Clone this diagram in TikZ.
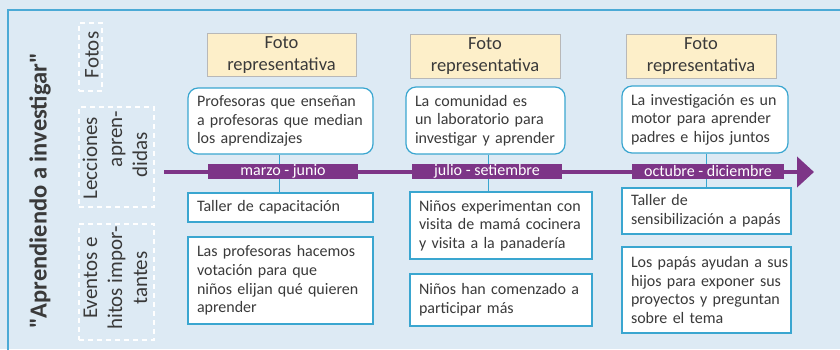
\documentclass[tikz,border=0pt]{standalone}
\usepackage{fontspec}
\setmainfont{Carlito}
\newfontfamily\titlefont{Carlito}[Ligatures=TeXOff]
\usetikzlibrary{arrows.meta}
\definecolor{bgc}{HTML}{DDEAF4}
\definecolor{framec}{HTML}{4BAAD6}
\definecolor{boxblue}{HTML}{3AA6D0}
\definecolor{tlpurple}{HTML}{7D3587}
\definecolor{fotofill}{HTML}{FDEFC9}
\definecolor{fotoline}{HTML}{B8B8B8}
\definecolor{txt}{HTML}{3A3A3A}
\tikzset{
  fotobox/.style={draw=fotoline, fill=fotofill, line width=1pt, align=center, text=txt,
    inner sep=0pt, font=\fontsize{18.5}{22}\selectfont},
  lessonbox/.style={draw=boxblue, fill=white, line width=1.2pt, rounded corners=10pt,
    align=left, text=txt, inner xsep=9pt, inner ysep=0pt, font=\fontsize{16}{18.6}\selectfont},
  eventbox/.style={draw=boxblue, fill=white, line width=1.2pt,
    align=left, text=txt, inner xsep=9pt, inner ysep=0pt, font=\fontsize{16}{18.6}\selectfont},
  datebox/.style={fill=tlpurple, text=white, minimum height=15pt, inner sep=0pt,
    font=\fontsize{16}{16}\selectfont},
  dashbox/.style={draw=white, dash pattern=on 5pt off 4pt, line width=2pt, inner sep=0pt},
  sidelabel/.style={rotate=90, anchor=base, text=txt, inner sep=0pt, font=\fontsize{21}{25}\selectfont},
  conn/.style={draw=boxblue, line width=1pt},
}
\begin{document}
\begin{tikzpicture}[x=1pt,y=-1pt]
\useasboundingbox (0,0) rectangle (840,349);
\fill[bgc] (0,0) rectangle (840,349);
\draw[framec, line width=1.5pt] (8,360) -- (8,10) -- (850,10);

% title
\node[rotate=90, text=txt, inner sep=0pt, font=\titlefont\bfseries\fontsize{24.5}{28}\selectfont] (ttl) at (40,191) {"Aprendiendo a investigar"};

% side dashed boxes
\node[dashbox, minimum width=23pt, minimum height=68pt] (fdash) at (90.5,57) {};
\node[dashbox, minimum width=75pt, minimum height=100pt] (ldash) at (116.5,157) {};
\node[dashbox, minimum width=75pt, minimum height=116pt] (edash) at (116.5,282) {};
\node[sidelabel] (sfotos) at (98.5,55) {Fotos};
\node[sidelabel] (sl1) at (97,158.5) {Lecciones};
\node[sidelabel] (sl2) at (122,139) {apren-};
\node[sidelabel] (sl3) at (147,155) {didas};
\node[sidelabel] (se1) at (97,278) {Eventos e};
\node[sidelabel] (se2) at (122,278) {hitos impor-};
\node[sidelabel] (se3) at (147,278) {tantes};

% timeline
\coordinate (tls) at (164,172);
\coordinate (tle) at (814,172);
\draw[tlpurple, line width=4.5pt, -{Triangle[length=17pt,width=30pt]}] (tls) -- (tle);

% photo boxes
\node[fotobox, minimum width=149pt, minimum height=43pt] (f1) at (281.5,55) {Foto\\representativa};
\node[fotobox, minimum width=150pt, minimum height=44pt] (f2) at (485,56) {Foto\\representativa};
\node[fotobox, minimum width=150pt, minimum height=44pt] (f3) at (701,56) {Foto\\representativa};

% lesson boxes
\node[lessonbox, text width=167pt, minimum height=66pt] (l1) at (280.5,121)
  {\mbox{Profesoras que enseñan}\\\mbox{a profesoras que median}\\\mbox{los aprendizajes}};
\node[lessonbox, text width=141pt, minimum height=67pt] (l2) at (485.5,120.5)
  {\mbox{La comunidad es}\\\mbox{un laboratorio para}\\\mbox{investigar y aprender}};
\node[lessonbox, text width=148pt, minimum height=67pt] (l3) at (705,119.5)
  {\mbox{La investigación es un}\\\mbox{motor para aprender}\\\mbox{padres e hijos juntos}};

% event boxes
\node[eventbox, text width=167pt, minimum height=29pt] (e1a) at (280.5,207.5)
  {\mbox{Taller de capacitación}};
\node[eventbox, text width=167pt, minimum height=87pt] (e1b) at (280.5,280.5)
  {\mbox{Las profesoras hacemos}\\\mbox{votación para que}\\\mbox{niños elijan qué quieren}\\\mbox{aprender}};
\node[eventbox, text width=164pt, minimum height=67pt] (e2a) at (501,225.5)
  {\mbox{Niños experimentan con}\\\mbox{visita de mamá cocinera}\\\mbox{y visita a la panadería}};
\node[eventbox, text width=164pt, minimum height=52pt] (e2b) at (501,300)
  {\mbox{Niños han comenzado a}\\\mbox{participar más}};
\node[eventbox, text width=151pt, minimum height=46pt] (e3a) at (706.5,211)
  {\mbox{Taller de}\\\mbox{sensibilización a papás}};
\node[eventbox, text width=151pt, minimum height=86pt] (e3b) at (706.5,290)
  {\mbox{Los papás ayudan a sus}\\\mbox{hijos para exponer sus}\\\mbox{proyectos y preguntan}\\\mbox{sobre el tema}};

% connectors
\coordinate (c1) at (279,0);
\coordinate (c2) at (488,0);
\coordinate (c3) at (706,0);
\draw[conn] (l1.south -| c1) -- (e1a.north -| c1);
\draw[conn] (l2.south -| c2) -- (e2a.north -| c2);
\draw[conn] (l3.south -| c3) -- (e3a.north -| c3);

% date labels
\node[datebox, minimum width=150pt] (d1) at (283,171) {marzo - junio};
\node[datebox, minimum width=150pt] (d2) at (487,171) {julio - setiembre};
\node[datebox, minimum width=152pt] (d3) at (708,171) {octubre - diciembre};
\end{tikzpicture}
\end{document}
